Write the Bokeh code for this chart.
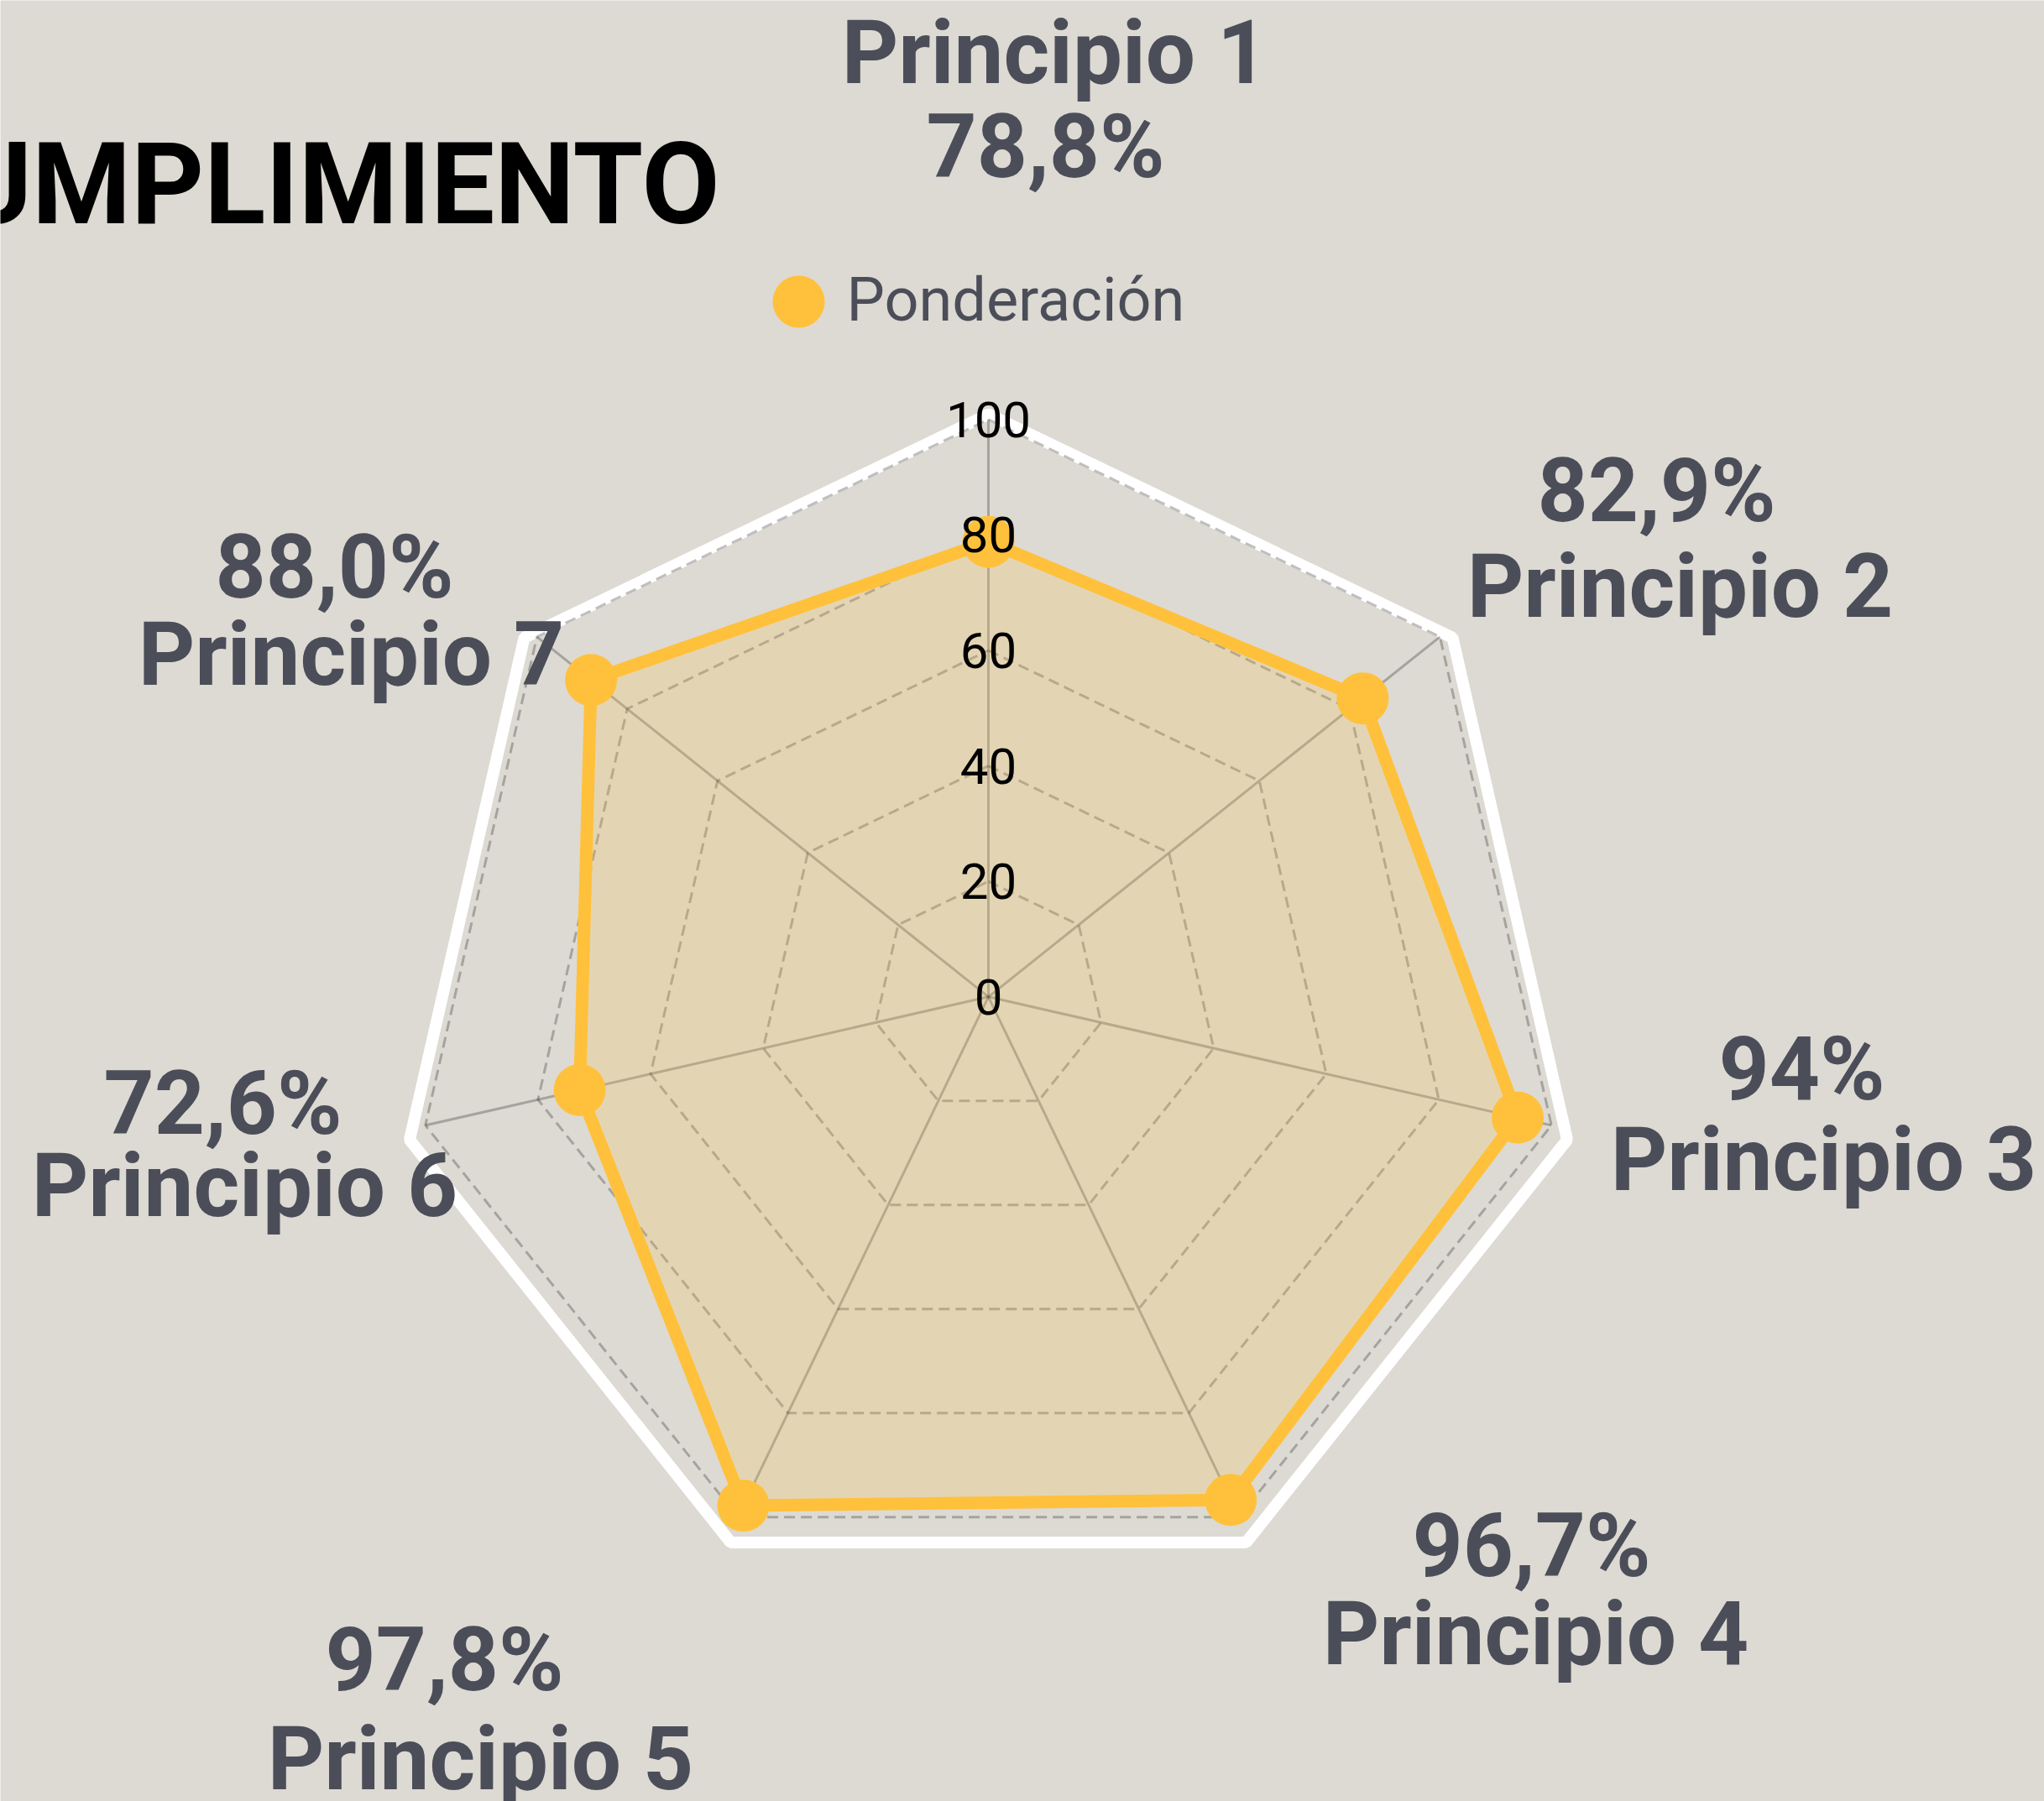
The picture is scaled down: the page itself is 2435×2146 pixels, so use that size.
import numpy as np
from bokeh.plotting import figure
from bokeh.models import Range1d
from bokeh.core.properties import value
from bokeh.embed import file_html
from bokeh.resources import INLINE

# ---------------- data ----------------
categories = ["Principio 1", "Principio 2", "Principio 3", "Principio 4",
              "Principio 5", "Principio 6", "Principio 7"]
values = [78.8, 82.9, 94.0, 96.7, 97.8, 72.6, 88.0]
value_labels = ["78,8%", "82,9%", "94%", "96,7%", "97,8%", "72,6%", "88,0%"]
ticks = [0, 20, 40, 60, 80, 100]
tick_labels = ["0", "20", "40", "60", "80", "100"]
series_name = "Ponderación"
title_text = "CUMPLIMIENTO"

# ---------------- layout (page pixels) ----------------
W, H = 2435, 2146
CX, CY = 1177.0, 1187.3          # chart centre on the page
S = 6.88                          # pixels per radial unit
R_MAX = 100
OUTER_R = 102.8                   # white outer frame radius (units)
OUTER_DY = 13.0                   # white frame shifted down (px)
BASE_K = 0.33                     # baseline correction (fraction of font size)

# label anchors: (centre x, baseline y) in page pixels for name / value lines
NAME_POS = [(1256, 98), (2001, 734), (2172, 1417), (1829, 1982),
            (572, 2131), (291, 1448), (418, 815)]
VALUE_POS = [(1245, 210), (1973, 620), (2146, 1309), (1824, 1877),
             (529, 2013), (265, 1350), (398, 711)]

BG = "#dddad3"
YELLOW = "#ffc13b"
LABEL_COLOR = "#4b4e59"
FONT = "Roboto"
LABEL_FS = 105


def fx(xp):
    return (xp - CX) / S


def fy(yp, fs=0):
    return (CY - (yp - BASE_K * fs)) / S


n = len(categories)
ang = np.deg2rad(90 - np.arange(n) * 360.0 / n)


def ring(r, dy=0.0):
    xs = list(r * np.cos(ang))
    ys = list(r * np.sin(ang) + dy)
    return xs, ys


p = figure(width=W, height=H, output_backend="svg", toolbar_location=None,
           x_range=Range1d(-CX / S, (W - CX) / S),
           y_range=Range1d(-(H - CY) / S, CY / S),
           x_axis_location=None, y_axis_location=None, min_border=0,
           background_fill_color=BG, border_fill_color=BG,
           outline_line_color=None)
p.grid.visible = False

# white outer frame
wx, wy = ring(OUTER_R, -OUTER_DY / S)
p.patch(wx, wy, fill_color=None, line_color="white", line_width=14)

# spokes
sx = [[0, R_MAX * np.cos(a)] for a in ang]
sy = [[0, R_MAX * np.sin(a)] for a in ang]
p.multi_line(sx, sy, line_color="black", line_alpha=0.25, line_width=3)

# dashed rings
rx, ry = [], []
for t in ticks[1:]:
    xs, ys = ring(t)
    rx.append(xs + [xs[0]])
    ry.append(ys + [ys[0]])
p.multi_line(rx, ry, line_color="black", line_alpha=0.25, line_width=3,
             line_dash="13 7")

# data polygon
vals = np.array(values)
dx = list(vals * np.cos(ang))
dy = list(vals * np.sin(ang))
p.patch(dx, dy, fill_color=YELLOW, fill_alpha=0.2, line_color=YELLOW,
        line_width=15)
p.scatter(dx, dy, size=62, marker="circle", fill_color=YELLOW,
          line_color=None)

# radial tick labels
p.text(x=[0] * len(ticks), y=ticks, text=tick_labels, text_align="center",
       text_baseline="middle", text_font=value(FONT),
       text_font_size="60px", text_color="black")

# category / value labels
p.text(x=[fx(a) for a, b in NAME_POS],
       y=[fy(b, LABEL_FS) for a, b in NAME_POS],
       text=categories, text_align="center", text_baseline="alphabetic",
       text_font=value(FONT), text_font_style="bold",
       text_font_size=f"{LABEL_FS}px", text_color=LABEL_COLOR)
p.text(x=[fx(a) for a, b in VALUE_POS],
       y=[fy(b, LABEL_FS) for a, b in VALUE_POS],
       text=value_labels, text_align="center", text_baseline="alphabetic",
       text_font=value(FONT), text_font_style="bold",
       text_font_size=f"{LABEL_FS}px", text_color=LABEL_COLOR)

# title (partly cut at the left edge, as in the original)
p.text(x=[fx(857)], y=[fy(264, 135)], text=[title_text], text_align="right",
       text_baseline="alphabetic", text_font=value(FONT),
       text_font_style="bold", text_font_size="135px", text_color="black")

# legend
p.scatter([fx(951)], [fy(359)], size=62, marker="circle",
          fill_color=YELLOW, line_color=None)
p.text(x=[fx(1008)], y=[fy(381, 72)], text=[series_name], text_align="left",
       text_baseline="alphabetic", text_font=value(FONT),
       text_font_size="72px", text_color=LABEL_COLOR)

open("out.html", "w").write(file_html(p, INLINE))
